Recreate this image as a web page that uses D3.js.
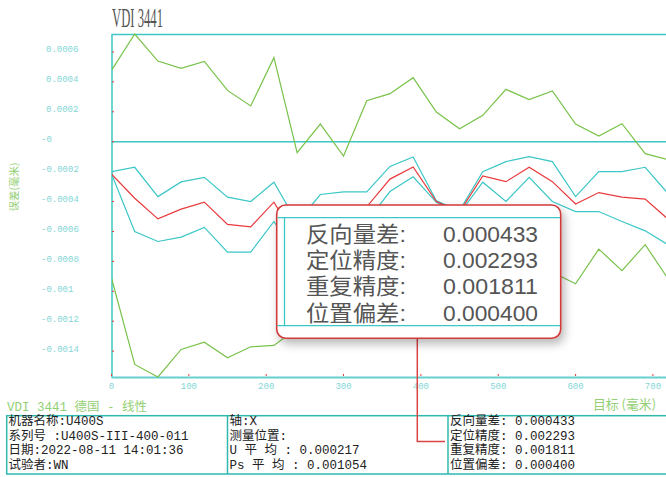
<!DOCTYPE html>
<html><head><meta charset="utf-8">
<script src="https://cdn.jsdelivr.net/npm/d3@7"></script>
<style>html,body{margin:0;padding:0;background:#fff;overflow:hidden}</style>
</head><body><svg id="c" width="666" height="477"></svg>
<script>
// Target positions (mm)
const positions = [0,30,60,90,120,150,180,210,240,270,300,330,360,390,420,450,480,510,540,570,600,630,660,690,720];
// Error values (mm)
const greenUpper = [0.000477,0.00072,0.000539,0.00049,0.000537,0.000343,0.000239,0.000562,-0.000073,0.000118,-0.000096,0.000274,0.000321,0.000428,0.000198,0.000087,0.000176,0.00035,0.000281,0.000339,0.000118,0.000038,0.00012,-0.00008,-0.00012];
const cyanUpper = [-0.0002,-0.000171,-0.000367,-0.000269,-0.000238,-0.000371,-0.0004,-0.000271,-0.00054,-0.000353,-0.000335,-0.000336,-0.000165,-0.000102,-0.000395,-0.00046,-0.0002,-0.000133,-0.0001,-0.000133,-0.000367,-0.0002,-0.0002,-0.000171,-0.00035];
const meanLine = [-0.000216,-0.000378,-0.000516,-0.000451,-0.000404,-0.000553,-0.000569,-0.000404,-0.00066,-0.00048,-0.00046,-0.000435,-0.00025,-0.000169,-0.0004,-0.00047,-0.000229,-0.000267,-0.000171,-0.000267,-0.000416,-0.00034,-0.000371,-0.000384,-0.00052];
const cyanLower = [-0.000216,-0.0006,-0.000667,-0.000638,-0.000573,-0.000738,-0.000738,-0.000533,-0.00078,-0.00061,-0.000585,-0.000534,-0.000333,-0.000235,-0.000405,-0.00048,-0.000271,-0.0004,-0.000238,-0.0004,-0.000467,-0.000467,-0.000533,-0.000596,-0.00069];
const greenLower = [-0.000911,-0.001489,-0.001573,-0.001389,-0.00134,-0.001444,-0.001371,-0.001362,-0.001247,-0.001078,-0.000824,-0.001144,-0.000821,-0.000766,-0.000998,-0.001027,-0.000634,-0.000884,-0.000623,-0.000873,-0.00095,-0.000718,-0.000862,-0.000688,-0.00092];

const yTickValues = [0.0006,0.0004,0.0002,0,-0.0002,-0.0004,-0.0006,-0.0008,-0.001,-0.0012,-0.0014];
const yTickLabels = ["0.0006","0.0004","0.0002","-0","-0.0002","-0.0004","-0.0006","-0.0008","-0.001","-0.0012","-0.0014"];
const xTickValues = [0,100,200,300,400,500,600,700];

const chartTitle = "VDI 3441";
const yAxisTitle = "误差(毫米)";
const xAxisTitle = "目标 (毫米)";
const footerTitle = "VDI 3441 德国 - 线性";
const calloutLabels = ["反向量差:","定位精度:","重复精度:","位置偏差:"];
const calloutValues = ["0.000433","0.002293","0.001811","0.000400"];
const tableCol1 = ["机器名称:U400S","系列号 :U400S-III-400-011","日期:2022-08-11 14:01:36","试验者:WN"];
const tableCol2 = ["轴:X","测量位置:","U 平 均 : 0.000217","Ps 平 均 : 0.001054"];
const tableCol3 = ["反向量差: 0.000433","定位精度: 0.002293","重复精度: 0.001811","位置偏差: 0.000400"];

const CYAN = "#3cc6c6", RED = "#e8393c", GREEN = "#78c24a";
const LBL = "#84d6d6", LGREEN = "#93cf74";
const MONO = "'Liberation Mono','DejaVu Sans Mono','Noto Sans CJK SC',monospace";

const svg = d3.select("#c");
const defs = svg.append("defs");
const f = defs.append("filter").attr("id","sh").attr("x","-10%").attr("y","-10%").attr("width","130%").attr("height","140%");
f.append("feDropShadow").attr("dx",3).attr("dy",5).attr("stdDeviation",5).attr("flood-color","#000").attr("flood-opacity",0.28);
defs.append("clipPath").attr("id","clip").append("rect").attr("x",112).attr("y",33).attr("width",600).attr("height",345);

const x = d3.scaleLinear().domain([0,720]).range([111.5,668.4]);
const y = d3.scaleLinear().domain([d3.min(greenLower), d3.max(greenUpper)]).range([377,34]);

// Title
svg.append("text").attr("x",112).attr("y",27).attr("font-family","'Liberation Serif',serif")
  .attr("font-size",28).attr("fill","#555").attr("textLength",51).attr("lengthAdjust","spacingAndGlyphs").text(chartTitle);

// frame
svg.append("line").attr("x1",111.5).attr("x2",700).attr("y1",34.5).attr("y2",34.5).attr("stroke",CYAN).attr("stroke-width",1.5);
svg.append("line").attr("x1",112).attr("x2",112).attr("y1",34).attr("y2",377).attr("stroke",CYAN).attr("stroke-width",1.5);
svg.append("line").attr("x1",111.5).attr("x2",700).attr("y1",y(0)).attr("y2",y(0)).attr("stroke",CYAN).attr("stroke-width",1.5);
svg.append("line").attr("x1",111.5).attr("x2",700).attr("y1",377.5).attr("y2",377.5).attr("stroke","#66d0d0").attr("stroke-width",2);

// ticks
svg.selectAll(".yt").data(yTickValues).enter().append("line")
  .attr("x1",112).attr("x2",114).attr("y1",d=>y(d)).attr("y2",d=>y(d)).attr("stroke",RED).attr("stroke-width",1);
svg.selectAll(".xt").data(xTickValues).enter().append("line")
  .attr("x1",d=>x(d)).attr("x2",d=>x(d)).attr("y1",376).attr("y2",374).attr("stroke",RED).attr("stroke-width",1);

svg.selectAll(".yl").data(yTickValues).enter().append("text")
  .attr("x",(d,i)=> yTickLabels[i].startsWith("-") ? 41 : 46)
  .attr("y",d=>y(d)-1.5).attr("dominant-baseline","central")
  .attr("font-family",MONO).attr("font-size",9).attr("fill",LBL)
  .text((d,i)=>yTickLabels[i]);
svg.selectAll(".xl").data(xTickValues).enter().append("text")
  .attr("x",d=>x(d)).attr("y",387).attr("dominant-baseline","central").attr("text-anchor","middle")
  .attr("font-family",MONO).attr("font-size",9).attr("fill",LBL).text(d=>String(d));

// axis titles
svg.append("text").attr("transform","translate(13,187) rotate(-90)").attr("text-anchor","middle")
  .attr("dominant-baseline","central").attr("font-family","'Noto Sans CJK SC',sans-serif").attr("font-size",10.5)
  .attr("fill",LGREEN).text(yAxisTitle);
svg.append("text").attr("x",593).attr("y",403).attr("dominant-baseline","central")
  .attr("font-family","'Noto Sans CJK SC',sans-serif").attr("font-size",13).attr("fill",LGREEN)
  .attr("textLength",63).attr("lengthAdjust","spacingAndGlyphs").text(xAxisTitle);

// series
const g = svg.append("g").attr("clip-path","url(#clip)");
const series = [
  {v: greenUpper, c: GREEN},
  {v: greenLower, c: GREEN},
  {v: cyanUpper, c: CYAN},
  {v: cyanLower, c: CYAN},
  {v: meanLine, c: RED}
];
const line = d3.line().x(d=>x(d[0])).y(d=>y(d[1]));
series.forEach(s=>{
  g.append("path").datum(positions.map((p,i)=>[p,s.v[i]]))
    .attr("d",line).attr("fill","none").attr("stroke",s.c).attr("stroke-width",1.2);
});

// footer title
svg.append("text").attr("x",7).attr("y",407.5).attr("dominant-baseline","central")
  .attr("font-family",MONO).attr("font-size",12).attr("fill",LGREEN)
  .attr("textLength",140).attr("lengthAdjust","spacingAndGlyphs").text(footerTitle);

// table
const TC = "#2fb8b0";
svg.append("rect").attr("x",6.7).attr("y",415.7).attr("width",680).attr("height",58.3)
  .attr("fill","none").attr("stroke",TC).attr("stroke-width",1.5);
[227.5,448].forEach(xx=>svg.append("line").attr("x1",xx).attr("x2",xx).attr("y1",415.7).attr("y2",474).attr("stroke",TC).attr("stroke-width",1.5));
const rowY = [422,436.5,450.5,465.5];
[[tableCol1,8.5],[tableCol2,229.5],[tableCol3,450]].forEach(([col,cx])=>{
  svg.selectAll(null).data(col).enter().append("text")
    .attr("x",cx).attr("y",(d,i)=>rowY[i]).attr("dominant-baseline","central")
    .attr("font-family",MONO).attr("font-size",12.5).attr("fill","#222")
    .style("white-space","pre").text(d=>d);
});

// pointer line
svg.append("polyline").attr("points","417.3,338 417.3,441.5 445,441.5")
  .attr("fill","none").attr("stroke","#d94545").attr("stroke-width",1.5);

// callout
const co = svg.append("g");
co.append("rect").attr("x",276.7).attr("y",205).attr("width",284).attr("height",133.3).attr("rx",9)
  .attr("fill","#fff").attr("stroke","#d23a3a").attr("stroke-width",1.6).attr("filter","url(#sh)");
co.append("line").attr("x1",277.5).attr("x2",560).attr("y1",217.7).attr("y2",217.7).attr("stroke",CYAN).attr("stroke-width",1.3);
co.append("line").attr("x1",277.5).attr("x2",560).attr("y1",325.7).attr("y2",325.7).attr("stroke",CYAN).attr("stroke-width",1.3);
co.append("line").attr("x1",284.5).attr("x2",284.5).attr("y1",217.7).attr("y2",325.7).attr("stroke",CYAN).attr("stroke-width",1.3);
const cRows = [241.6,268,294,320.6];
co.selectAll(null).data(calloutLabels).enter().append("text")
  .attr("x",306).attr("y",(d,i)=>cRows[i]).attr("font-family","'Liberation Sans','Noto Sans CJK SC',sans-serif")
  .attr("font-size",22).attr("fill","#555").attr("textLength",100).attr("lengthAdjust","spacingAndGlyphs").text(d=>d);
co.selectAll(null).data(calloutValues).enter().append("text")
  .attr("x",443).attr("y",(d,i)=>cRows[i]).attr("font-family","'Liberation Sans',sans-serif")
  .attr("font-size",22).attr("fill","#555").attr("textLength",95).attr("lengthAdjust","spacingAndGlyphs").text(d=>d);
</script></body></html>
